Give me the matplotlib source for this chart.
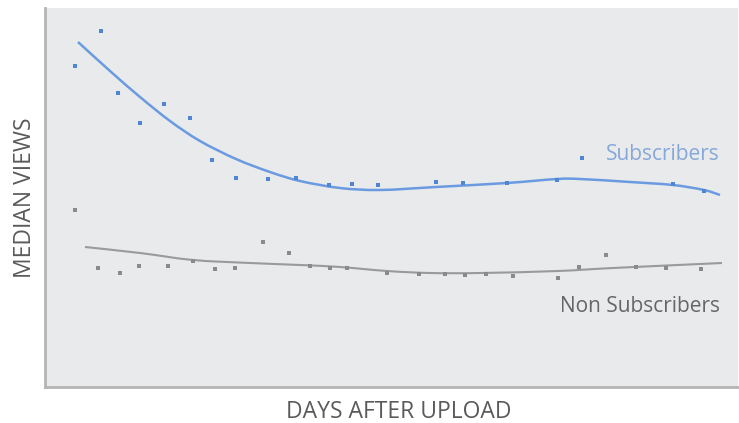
import numpy as np
import matplotlib
matplotlib.use("Agg")
import matplotlib.pyplot as plt
from matplotlib.path import Path
from matplotlib.patches import PathPatch

# Values (x: day position, y: relative median views)
sub_x = [75, 101, 118, 140, 164, 190, 212, 236, 268, 296, 329, 352, 378,
         436, 463, 507, 557, 582, 673, 704]
sub_y = [321, 356, 294, 264, 283, 269, 227, 209, 208, 209, 202, 203, 202,
         205, 204, 204, 207, 229, 203, 196]

non_x = [75, 98, 120, 139, 168, 193, 215, 235, 263, 289, 310, 330, 347, 387,
         419, 445, 465, 486, 513, 558, 579, 606, 636, 666, 701]
non_y = [177, 119, 114, 121, 121, 126, 118, 119, 145, 134, 121, 119, 119, 114,
         113, 113, 112, 113, 111, 109, 120, 132, 120, 119, 118]

# Trend lines (smoothed fits as drawn)
sub_trend_x = [78, 110, 140, 170, 200, 236, 270, 300, 340, 380, 436, 507, 557, 580, 630, 673, 704, 720]
sub_trend_y = [345, 316, 290, 266, 246, 228, 215, 206, 199, 197, 200, 204, 208, 208, 205, 202, 197, 192]

non_trend_x = [85, 140, 193, 250, 300, 340, 387, 430, 480, 558, 613, 722]
non_trend_y = [140, 134, 127, 124, 122, 120, 116, 114, 114, 116, 119, 124]

BG = "#e9eaec"
BLUE = "#4f85d2"
BLUE_LINE = "#6a9be0"
GRAY = "#8a8a8a"
GRAY_LINE = "#9a9a9a"


def smooth_path(xs, ys):
    pts = np.column_stack([xs, ys]).astype(float)
    verts = [pts[0]]
    codes = [Path.MOVETO]
    n = len(pts)
    for i in range(n - 1):
        p0 = pts[i - 1] if i > 0 else pts[i]
        p1 = pts[i]
        p2 = pts[i + 1]
        p3 = pts[i + 2] if i + 2 < n else pts[i + 1]
        c1 = p1 + (p2 - p0) / 6.0
        c2 = p2 - (p3 - p1) / 6.0
        verts += [c1, c2, p2]
        codes += [Path.CURVE4] * 3
    return Path(verts, codes)


fig = plt.figure(figsize=(7.39, 4.23), dpi=100)
ax = fig.add_axes([45 / 739, (423 - 387) / 423, (738 - 45) / 739, (387 - 8) / 423])
ax.set_facecolor(BG)
ax.set_xlim(45, 738)
ax.set_ylim(0, 379)

ax.add_patch(PathPatch(smooth_path(sub_trend_x, sub_trend_y), facecolor="none",
                       edgecolor=BLUE_LINE, lw=1.8))
ax.add_patch(PathPatch(smooth_path(non_trend_x, non_trend_y), facecolor="none",
                       edgecolor=GRAY_LINE, lw=1.5))

ax.scatter(sub_x, sub_y, s=9, color=BLUE, marker="s", linewidths=0, zorder=3)
ax.scatter(non_x, non_y, s=8, color=GRAY, marker="s", linewidths=0, zorder=3)

font = "Open Sans"
ax.text(720, 233, "Subscribers", color="#86a7da", fontsize=15, family=font,
        ha="right", va="center")
ax.text(720, 81, "Non Subscribers", color="#666666", fontsize=15, family=font,
        ha="right", va="center")

for side in ["top", "right"]:
    ax.spines[side].set_visible(False)
for side in ["left", "bottom"]:
    ax.spines[side].set_color("#b5b5b5")
    ax.spines[side].set_linewidth(2)
ax.set_xticks([])
ax.set_yticks([])

ax.set_xlabel("DAYS AFTER UPLOAD", fontsize=16.5, family=font, color="#5a5a5a")
ax.set_ylabel("MEDIAN VIEWS", fontsize=16.5, family=font, color="#5a5a5a",
              labelpad=6)
ax.xaxis.set_label_coords((399 - 45) / 693, -0.035)
ax.xaxis.label.set_va("top")

fig.savefig("out.png", dpi=100, facecolor="white")
